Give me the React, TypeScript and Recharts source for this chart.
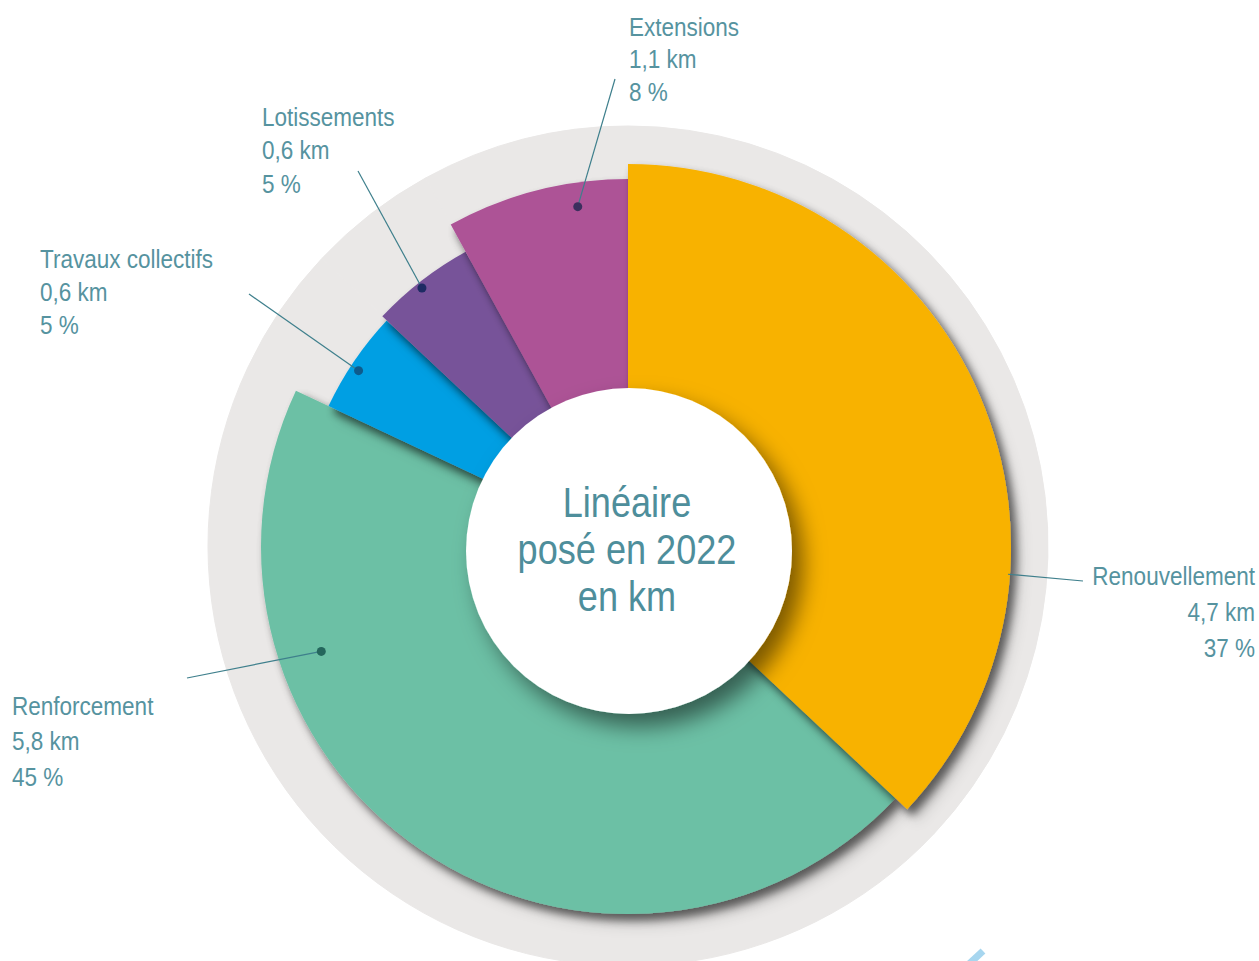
import { PieChart, Pie, Cell } from "recharts";

const categories = [
  "Renouvellement",
  "Renforcement",
  "Travaux collectifs",
  "Lotissements",
  "Extensions",
];
const lengthKm = ["4,7", "5,8", "0,6", "0,6", "1,1"];
const shares = [37, 45, 5, 5, 8];
const centerLines = ["Linéaire", "posé en 2022", "en km"];

const data = categories.map((name, i) => ({
  name,
  km: lengthKm[i],
  pct: shares[i],
}));

const COLORS = ["#F8B200", "#6CC0A5", "#009FE3", "#775399", "#AD5296"];
const DOT_COLORS = ["", "#24665C", "#0E5B8C", "#1E2B63", "#3B2F5E"];
const RADII = [383, 367, 331, 337, 368];
// draw order: green, blue, purple, magenta, orange
const DRAW_ORDER = [1, 2, 3, 4, 0];

const CX = 628;
const CY = 547;
const FONT = "'Liberation Sans', Arial, sans-serif";
const TEXT_COLOR = "#56939F";
const LINE_COLOR = "#3E7F8C";
const SQUEEZE = 0.85;

// leader line / text layout per slice
const LABELS = [
  { da: -27.5, r: 0, dot: false, end: [1083, 581], x: 1255, y: 585, anchor: "end", lh: 36 },
  { da: -37, r: 324, dot: true, end: [187, 678], x: 12, y: 715, anchor: "start", lh: 35.5 },
  { da: 1, r: 322, dot: true, end: [249, 294], x: 40, y: 268, anchor: "start", lh: 33 },
  { da: 0.7, r: 331, dot: true, end: [358, 171], x: 262, y: 126, anchor: "start", lh: 33.5 },
  { da: -6, r: 344, dot: true, end: [615, 79], x: 629, y: 36, anchor: "start", lh: 32.5 },
];

const renderLabel = (props: any) => {
  const { cx, cy, midAngle, index } = props;
  const l = LABELS[index];
  const rad = (Math.PI / 180) * (midAngle + l.da);
  const r = l.r || RADII[index] - 2;
  const px = cx + r * Math.cos(-rad);
  const py = cy + r * Math.sin(-rad);
  const lines = [categories[index], `${lengthKm[index]} km`, `${shares[index]} %`];
  return (
    <g key={`lbl-${index}`}>
      <line x1={px} y1={py} x2={l.end[0]} y2={l.end[1]} stroke={LINE_COLOR} strokeWidth={1.2} />
      {l.dot && <circle cx={px} cy={py} r={4.5} fill={DOT_COLORS[index]} />}
      <text
        transform={`translate(${l.x},0) scale(${SQUEEZE},1)`}
        textAnchor={l.anchor as any}
        fill={TEXT_COLOR}
        fontSize={26.5}
        fontFamily={FONT}
      >
        {lines.map((t, j) => (
          <tspan key={j} x={0} y={l.y + j * l.lh}>
            {t}
          </tspan>
        ))}
      </text>
    </g>
  );
};

export default function App() {
  return (
    <div
      style={{
        position: "absolute",
        left: 0,
        top: 0,
        width: 1259,
        height: 961,
        overflow: "hidden",
        background: "#fff",
      }}
    >
      <style>{`
        .slice-shadow { filter: url(#sliceShadow); }
      `}</style>
      <svg width={0} height={0} style={{ position: "absolute" }}>
        <defs>
          <filter id="sliceShadow" x="-20%" y="-20%" width="140%" height="140%">
            <feDropShadow dx={5} dy={6} stdDeviation={4} floodColor="#000" floodOpacity={0.38} />
          </filter>
          <filter id="discShadow" x="-40%" y="-40%" width="180%" height="180%">
            <feDropShadow dx={11} dy={13} stdDeviation={11} floodColor="#000" floodOpacity={0.5} />
          </filter>
        </defs>
      </svg>
      <PieChart
        width={1259}
        height={961}
        margin={{ top: 0, right: 0, bottom: 0, left: 0 }}
        style={{ position: "absolute", left: 0, top: 0 }}
      >
        {/* gray background ring */}
        <Pie
          data={data}
          dataKey="pct"
          cx={CX}
          cy={546}
          outerRadius={420}
          startAngle={90}
          endAngle={-270}
          stroke="#EAE8E7"
          strokeWidth={1}
          isAnimationActive={false}
        >
          {data.map((_, i) => (
            <Cell key={`bg-${i}`} fill="#EAE8E7" />
          ))}
        </Pie>
        {DRAW_ORDER.map((k) => (
          <Pie
            key={`slice-${k}`}
            className="slice-shadow"
            data={data}
            dataKey="pct"
            cx={CX}
            cy={CY}
            outerRadius={RADII[k]}
            startAngle={90}
            endAngle={-270}
            stroke="none"
            isAnimationActive={false}
          >
            {data.map((_, i) => (
              <Cell key={`c-${k}-${i}`} fill={i === k ? COLORS[i] : "none"} stroke="none" />
            ))}
          </Pie>
        ))}
        {/* labels */}
        <Pie
          data={data}
          dataKey="pct"
          cx={CX}
          cy={CY}
          outerRadius={RADII[0]}
          startAngle={90}
          endAngle={-270}
          stroke="none"
          fill="none"
          label={renderLabel}
          labelLine={false}
          isAnimationActive={false}
        >
          {data.map((_, i) => (
            <Cell key={`l-${i}`} fill="none" stroke="none" />
          ))}
        </Pie>
      </PieChart>
      <svg
        width={1259}
        height={961}
        style={{ position: "absolute", left: 0, top: 0, pointerEvents: "none" }}
      >
        <circle cx={629} cy={551} r={163} fill="#fff" filter="url(#discShadow)" />
        <text
          transform={`translate(627,0) scale(0.84,1)`}
          textAnchor="middle"
          fill="#4E8E9B"
          fontSize={43}
          fontFamily={FONT}
        >
          {centerLines.map((t, j) => (
            <tspan key={j} x={0} y={517 + j * 47}>
              {t}
            </tspan>
          ))}
        </text>
        <line x1={969} y1={964} x2={983} y2={951} stroke="#A7D6EF" strokeWidth={7} />
      </svg>
    </div>
  );
}
